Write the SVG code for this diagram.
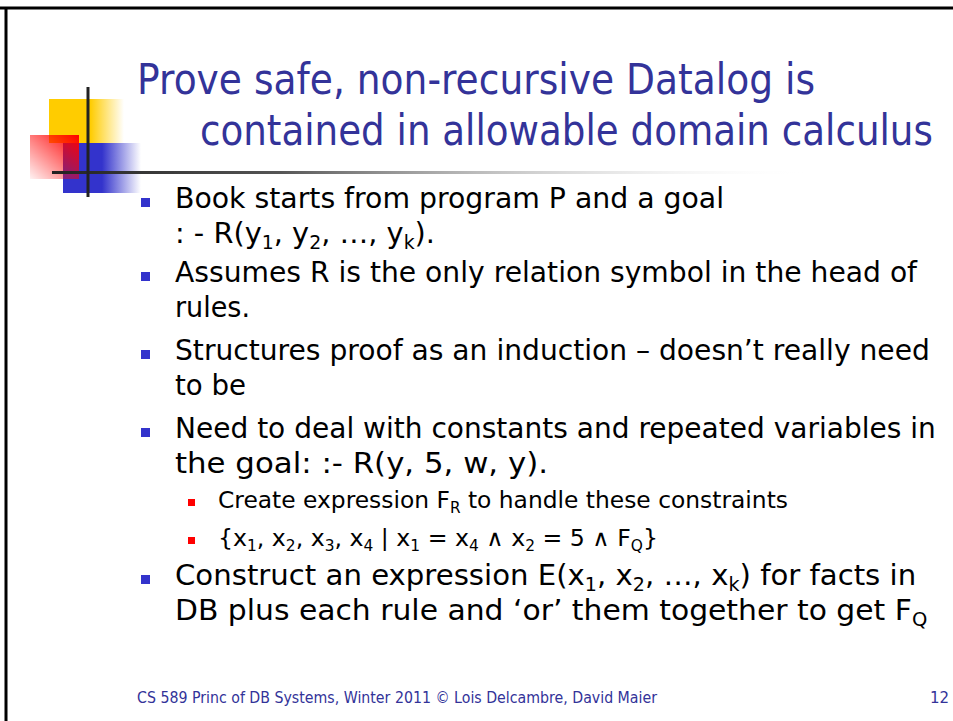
<svg xmlns="http://www.w3.org/2000/svg" width="953" height="721" viewBox="0 0 953 721">
<style>
.t{font-family:"DejaVu Sans","Liberation Sans",sans-serif;fill:#333399;font-size:42px}
.b{font-family:"DejaVu Sans","Liberation Sans",sans-serif;fill:#000;font-size:29px}
.s{font-family:"DejaVu Sans","Liberation Sans",sans-serif;fill:#000;font-size:23px}
.f{font-family:"DejaVu Sans","Liberation Sans",sans-serif;fill:#333399;font-size:15px}
.sub{font-size:19px}
.ssub{font-size:15px}
.bb{fill:#3333cc}
.rb{fill:#ff0000}
</style>
<defs>
<linearGradient id="gy" x1="0" y1="0" x2="1" y2="0"><stop offset="0" stop-color="#ffcc00"/><stop offset="0.55" stop-color="#ffcc00"/><stop offset="1" stop-color="#ffcc00" stop-opacity="0"/></linearGradient>
<linearGradient id="gb" x1="0" y1="0" x2="1" y2="0"><stop offset="0" stop-color="#3333cc"/><stop offset="0.5" stop-color="#3333cc"/><stop offset="1" stop-color="#3333cc" stop-opacity="0"/></linearGradient>
<linearGradient id="gr" x1="1" y1="0" x2="0" y2="1"><stop offset="0" stop-color="#ff0000"/><stop offset="1" stop-color="#ff0000" stop-opacity="0.05"/></linearGradient>
<linearGradient id="gl" x1="0" y1="0" x2="1" y2="0"><stop offset="0" stop-color="#222"/><stop offset="0.3" stop-color="#555"/><stop offset="1" stop-color="#fff" stop-opacity="0"/></linearGradient>
</defs>
<rect width="953" height="721" fill="#fff"/>
<g id="frame">
<line x1="0" y1="8" x2="953" y2="8" stroke="#000" stroke-width="3"/>
<line x1="6" y1="8" x2="6" y2="721" stroke="#000" stroke-width="3"/>
</g>
<g id="decoration">
<rect x="49" y="99" width="75" height="44" fill="url(#gy)"/>
<rect x="63" y="143" width="78" height="50" fill="url(#gb)"/>
<rect x="30" y="135" width="49" height="44" fill="url(#gr)"/>
<rect x="52" y="171" width="760" height="3" fill="url(#gl)"/>
<rect x="86.5" y="87" width="3" height="110" fill="#222"/>
</g>
<g id="title">
<text class="t" transform="matrix(0.8 0 0 1 137 94)" x="0" y="0" textLength="847.5" lengthAdjust="spacingAndGlyphs">Prove safe, non-recursive Datalog is</text>
<text class="t" transform="matrix(0.8 0 0 1 200 145)" x="0" y="0" textLength="916" lengthAdjust="spacingAndGlyphs">contained in allowable domain calculus</text>
</g>
<g id="bullets">
<rect class="bb" x="141" y="198" width="9" height="9"/>
<text class="b" x="175" y="208" textLength="549" lengthAdjust="spacingAndGlyphs">Book starts from program P and a goal</text>
<text class="b" x="175" y="243" textLength="260" lengthAdjust="spacingAndGlyphs">: - R(y<tspan class="sub" dy="6">1</tspan><tspan dy="-6">, y</tspan><tspan class="sub" dy="6">2</tspan><tspan dy="-6">, …, y</tspan><tspan class="sub" dy="6">k</tspan><tspan dy="-6">).</tspan></text>
<rect class="bb" x="141" y="272" width="9" height="9"/>
<text class="b" transform="matrix(0.85 0 0 1 175 282)" x="0" y="0" textLength="873" lengthAdjust="spacingAndGlyphs">Assumes R is the only relation symbol in the head of</text>
<text class="b" x="175" y="317" textLength="75" lengthAdjust="spacingAndGlyphs">rules.</text>
<rect class="bb" x="141" y="350" width="9" height="9"/>
<text class="b" transform="matrix(0.85 0 0 1 175 360)" x="0" y="0" textLength="888" lengthAdjust="spacingAndGlyphs">Structures proof as an induction – doesn’t really need</text>
<text class="b" x="175" y="395" textLength="71" lengthAdjust="spacingAndGlyphs">to be</text>
<rect class="bb" x="141" y="428" width="9" height="9"/>
<text class="b" transform="matrix(0.85 0 0 1 175 438)" x="0" y="0" textLength="895" lengthAdjust="spacingAndGlyphs">Need to deal with constants and repeated variables in</text>
<text class="b" x="175" y="473" textLength="373" lengthAdjust="spacingAndGlyphs">the goal: :- R(y, 5, w, y).</text>
<rect class="rb" x="188" y="499" width="7" height="7"/>
<text class="s" x="218" y="508" textLength="570" lengthAdjust="spacingAndGlyphs">Create expression F<tspan class="ssub" dy="5">R</tspan><tspan dy="-5"> to handle these constraints</tspan></text>
<rect class="rb" x="188" y="537" width="7" height="7"/>
<text class="s" x="218" y="546" textLength="440" lengthAdjust="spacingAndGlyphs">{x<tspan class="ssub" dy="5">1</tspan><tspan dy="-5">, x</tspan><tspan class="ssub" dy="5">2</tspan><tspan dy="-5">, x</tspan><tspan class="ssub" dy="5">3</tspan><tspan dy="-5">, x</tspan><tspan class="ssub" dy="5">4</tspan><tspan dy="-5"> | x</tspan><tspan class="ssub" dy="5">1</tspan><tspan dy="-5"> = x</tspan><tspan class="ssub" dy="5">4</tspan><tspan dy="-5"> ∧ x</tspan><tspan class="ssub" dy="5">2</tspan><tspan dy="-5"> = 5 ∧ F</tspan><tspan class="ssub" dy="5">Q</tspan><tspan dy="-5">}</tspan></text>
<rect class="bb" x="141" y="575" width="9" height="9"/>
<text class="b" transform="matrix(0.85 0 0 1 175 585)" x="0" y="0" textLength="872" lengthAdjust="spacingAndGlyphs">Construct an expression E(x<tspan class="sub" dy="6">1</tspan><tspan dy="-6">, x</tspan><tspan class="sub" dy="6">2</tspan><tspan dy="-6">, …, x</tspan><tspan class="sub" dy="6">k</tspan><tspan dy="-6">) for facts in</tspan></text>
<text class="b" transform="matrix(0.85 0 0 1 175 620)" x="0" y="0" textLength="885" lengthAdjust="spacingAndGlyphs">DB plus each rule and ‘or’ them together to get F<tspan class="sub" dy="6">Q</tspan></text>
</g>
<g id="footer">
<text class="f" x="137" y="703" textLength="520" lengthAdjust="spacingAndGlyphs">CS 589 Princ of DB Systems, Winter 2011 © Lois Delcambre, David Maier</text>
<text class="f" x="949" y="703" text-anchor="end">12</text>
</g>
</svg>
